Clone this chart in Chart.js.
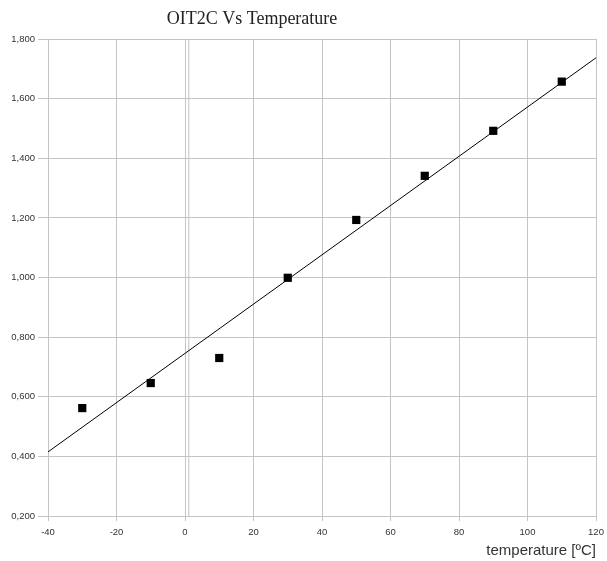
<!DOCTYPE html>
<html><head><meta charset="utf-8">
<script src="https://cdn.jsdelivr.net/npm/chart.js@4/dist/chart.umd.min.js"></script>
<style>html,body{margin:0;padding:0;background:#fff;}canvas{display:block;}</style>
</head><body>
<canvas id="c" width="607" height="561"></canvas>
<script>
const titleText = 'OIT2C Vs Temperature';
const xAxisTitle = 'temperature [ºC]';
const temperatures = [-30, -10, 10, 30, 50, 70, 90, 110];
const oitValues = [0.562, 0.646, 0.730, 0.999, 1.193, 1.341, 1.492, 1.657];
const trendX = [-40, 120];
const trendY = [0.415, 1.737];
const axisLineX = [1.1, 1.1];
const axisLineY = [0.2, 1.8];
const xTicks = [-40, -20, 0, 20, 40, 60, 80, 100, 120];
const yTicks = [0.2, 0.4, 0.6, 0.8, 1.0, 1.2, 1.4, 1.6, 1.8];

const gridColor = '#c4c4c4';

const titlePlugin = {
  id: 'customTitle',
  afterDraw(chart) {
    const ctx = chart.ctx;
    ctx.save();
    ctx.font = '18px "Liberation Serif", "DejaVu Serif", serif';
    ctx.fillStyle = '#222';
    ctx.textAlign = 'center';
    ctx.textBaseline = 'middle';
    ctx.fillText(titleText, 252, 19);
    ctx.restore();
  }
};

new Chart(document.getElementById('c'), {
  type: 'scatter',
  data: {
    datasets: [
      {
        data: axisLineX.map((x, i) => ({x, y: axisLineY[i]})),
        showLine: true, borderColor: gridColor, borderWidth: 1, pointRadius: 0, order: 3
      },
      {
        data: trendX.map((x, i) => ({x, y: trendY[i]})),
        showLine: true, borderColor: '#000', borderWidth: 1, pointRadius: 0, order: 2
      },
      {
        data: temperatures.map((x, i) => ({x, y: oitValues[i]})),
        pointStyle: 'rect', pointRadius: 5.8, backgroundColor: '#000', borderColor: '#000', borderWidth: 0, order: 1
      }
    ]
  },
  options: {
    responsive: false,
    animation: false,
    devicePixelRatio: 1,
    layout: { padding: { top: 39, right: 11, bottom: 0, left: 0 } },
    plugins: { legend: { display: false }, tooltip: { enabled: false }, title: { display: false } },
    scales: {
      x: {
        type: 'linear', min: -40, max: 120,
        afterBuildTicks: s => { s.ticks = xTicks.map(v => ({value: v})); },
        afterFit: s => { s.height = 45; s.paddingRight = 0; s.paddingLeft = 0; },
        grid: { color: gridColor, tickColor: gridColor, tickLength: 5, drawTicks: true },
        border: { color: gridColor },
        ticks: { font: { family: '"Liberation Sans", Arial, sans-serif', size: 9.5 }, color: '#333', padding: 6, maxRotation: 0 },
        title: { display: true, text: xAxisTitle, align: 'end', color: '#333',
                 font: { family: '"Liberation Sans", Arial, sans-serif', size: 15 }, padding: { top: 0, bottom: 1 } }
      },
      y: {
        type: 'linear', min: 0.2, max: 1.8,
        afterBuildTicks: s => { s.ticks = yTicks.map(v => ({value: v})); },
        afterFit: s => { s.width = 48; s.paddingTop = 0; s.paddingBottom = 0; },
        grid: { color: gridColor, tickColor: gridColor, tickLength: 10 },
        border: { color: gridColor },
        ticks: { font: { family: '"Liberation Sans", Arial, sans-serif', size: 9.5 }, color: '#333', padding: 3,
                 callback: v => v.toFixed(3).replace('.', ',') }
      }
    }
  },
  plugins: [titlePlugin]
});
</script>
</body></html>
